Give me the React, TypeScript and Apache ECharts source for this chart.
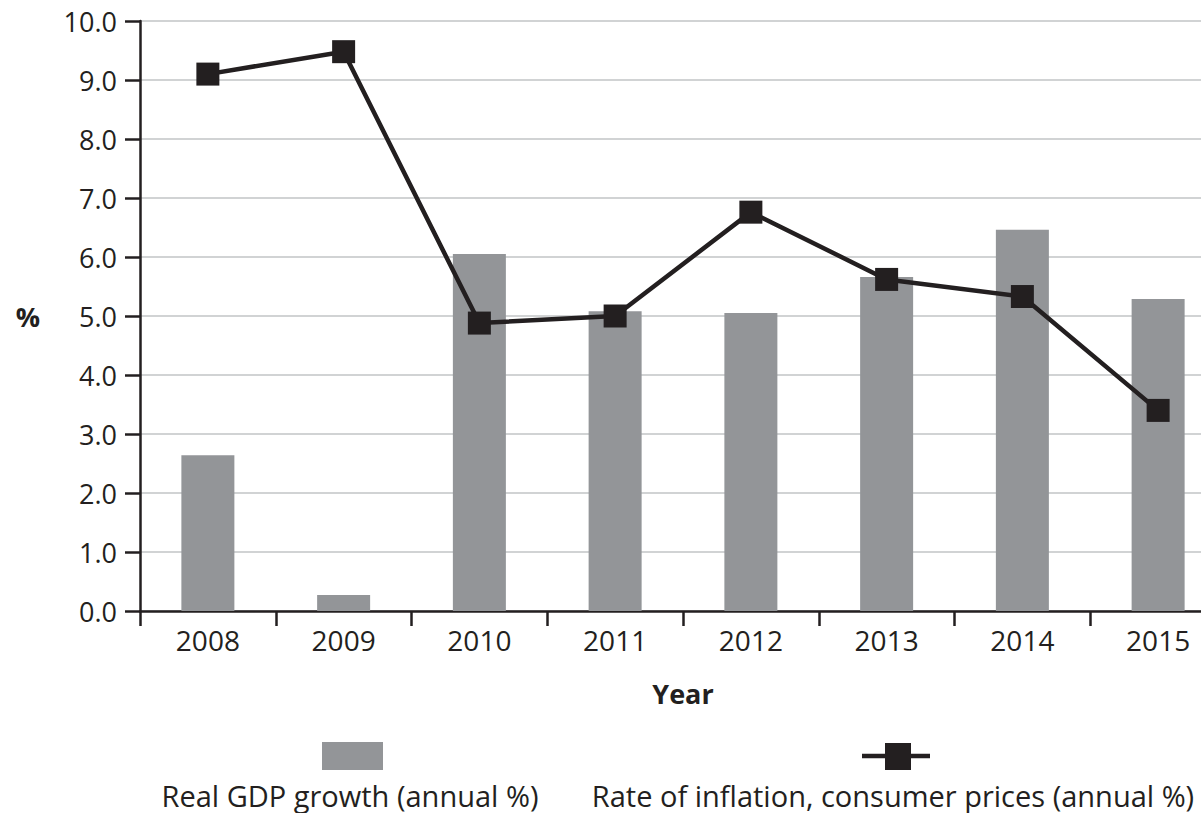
import React, { useEffect, useRef } from "react";
import * as echarts from "echarts";

const years = ["2008", "2009", "2010", "2011", "2012", "2013", "2014", "2015"];
const gdpGrowth = [2.64, 0.27, 6.05, 5.08, 5.05, 5.66, 6.46, 5.29];
const inflation = [9.1, 9.48, 4.88, 5.0, 6.76, 5.62, 5.33, 3.4];
const yTicks = { min: 0, max: 10, interval: 1 };
const gdpName = "Real GDP growth (annual %)";
const inflName = "Rate of inflation, consumer prices (annual %)";

const FONT = "'Open Sans', sans-serif";
const INK = "#231f20";
const GREY = "#939598";

export default function App() {
  const ref = useRef<HTMLDivElement>(null);
  useEffect(() => {
    if (!ref.current) return;
    const chart = echarts.init(ref.current, null, { renderer: "svg" });
    chart.setOption({
      animation: false,
      textStyle: { fontFamily: FONT, color: INK },
      grid: { left: 140, top: 21, bottom: 202, right: 0, containLabel: false },
      xAxis: {
        type: "category",
        data: years,
        boundaryGap: true,
        name: "Year",
        nameLocation: "middle",
        nameGap: 69,
        nameTextStyle: { fontFamily: FONT, fontSize: 27, fontWeight: "bold", color: INK },
        axisLine: { show: true, lineStyle: { color: INK, width: 2.5 } },
        axisTick: { show: true, length: 15, lineStyle: { color: INK, width: 2.5 } },
        axisLabel: { fontFamily: FONT, fontSize: 28, color: INK, margin: 15 },
      },
      yAxis: {
        type: "value",
        min: yTicks.min,
        max: yTicks.max,
        interval: yTicks.interval,
        name: "%",
        nameLocation: "middle",
        nameRotate: 0,
        nameGap: 100,
        nameTextStyle: { fontFamily: FONT, fontSize: 27, fontWeight: "bold", color: INK },
        axisLine: { show: true, lineStyle: { color: INK, width: 2.5 } },
        axisTick: { show: true, length: 15, lineStyle: { color: INK, width: 2.5 } },
        axisLabel: {
          fontFamily: FONT,
          fontSize: 27,
          color: INK,
          margin: 23,
          formatter: (v: number) => v.toFixed(1),
        },
        splitLine: { show: true, lineStyle: { color: "#d1d3d4", width: 2 } },
      },
      series: [
        {
          name: gdpName,
          type: "bar",
          data: gdpGrowth,
          barWidth: 53,
          itemStyle: { color: GREY },
        },
        {
          name: inflName,
          type: "line",
          data: inflation,
          symbol: "rect",
          symbolSize: 23,
          lineStyle: { color: INK, width: 4.5 },
          itemStyle: { color: INK },
          z: 5,
        },
      ],
      graphic: [
        { type: "rect", shape: { x: 322, y: 742, width: 61, height: 28 }, style: { fill: GREY } },
        { type: "text", style: { x: 350, y: 795, text: gdpName, fontFamily: FONT, fontSize: 29, fill: INK, textAlign: "center", textVerticalAlign: "middle" } },
        { type: "line", shape: { x1: 862, y1: 756, x2: 930, y2: 756 }, style: { stroke: INK, lineWidth: 4.5 } },
        { type: "rect", shape: { x: 885, y: 743, width: 26, height: 27 }, style: { fill: INK } },
        { type: "text", style: { x: 893, y: 795, text: inflName, fontFamily: FONT, fontSize: 29, fill: INK, textAlign: "center", textVerticalAlign: "middle" } },
      ],
    });
    return () => chart.dispose();
  }, []);
  return (
    <div style={{ position: "absolute", left: 0, top: 0, width: 1201, height: 813, overflow: "hidden", background: "#fff" }}>
      <div ref={ref} style={{ width: 1226, height: 813 }} />
    </div>
  );
}
